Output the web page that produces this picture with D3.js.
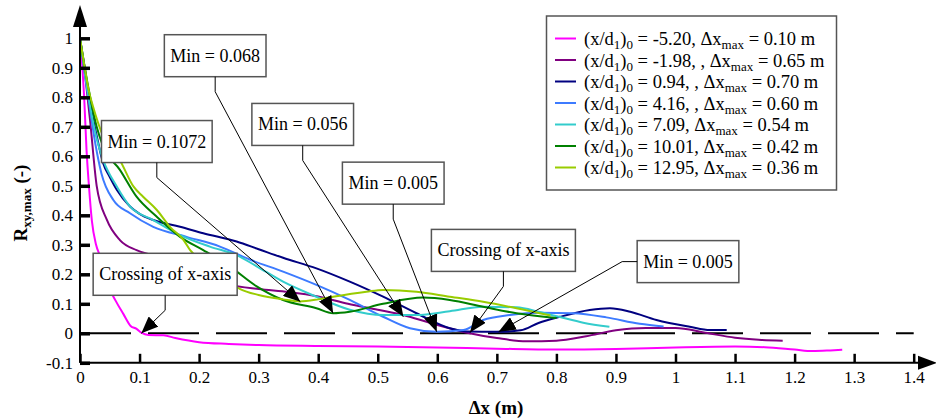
<!DOCTYPE html>
<html>
<head>
<meta charset="utf-8">
<script src="https://cdn.jsdelivr.net/npm/d3@7"></script>
<style>
body { margin: 0; background: #fff; }
svg text { font-family: "Liberation Serif", "DejaVu Serif", serif !important; }
</style>
</head>
<body>
<div id="chart"></div>
<script>
// R_xy,max against separation dx, one series per starting position (x/d1)0
const seriesLabels = [
    ["-5.20", "", "0.10"],
    ["-1.98", ", ", "0.65"],
    ["0.94", ", ", "0.70"],
    ["4.16", ", ", "0.60"],
    ["7.09", "", "0.54"],
    ["10.01", "", "0.42"],
    ["12.95", "", "0.36"]
];
const seriesColors = ["#ff00ff", "#800080", "#000080", "#3d7bff", "#33cccc", "#008000", "#99cc00"];

const s520 = [[0, 1.0], [0.004, 0.9], [0.007, 0.8], [0.011, 0.62], [0.015, 0.5], [0.02, 0.38], [0.027, 0.3],
    [0.034, 0.26], [0.04, 0.22], [0.048, 0.16], [0.06, 0.11], [0.073, 0.065], [0.085, 0.025], [0.095, 0.015],
    [0.103, 0.002], [0.115, -0.006], [0.14, -0.007], [0.16, -0.016], [0.2, -0.03], [0.25, -0.036], [0.3, -0.04],
    [0.4, -0.043], [0.5, -0.045], [0.6, -0.048], [0.7, -0.052], [0.8, -0.055], [0.9, -0.053], [1.0, -0.048],
    [1.1, -0.045], [1.15, -0.047], [1.2, -0.055], [1.23, -0.06], [1.26, -0.058], [1.28, -0.056]];
const s198 = [[0, 1.0], [0.01, 0.85], [0.017, 0.72], [0.028, 0.5], [0.045, 0.385], [0.067, 0.316], [0.095, 0.282],
    [0.12, 0.265], [0.15, 0.24], [0.2, 0.2], [0.25, 0.165], [0.3, 0.15], [0.35, 0.14], [0.4, 0.125], [0.45, 0.1],
    [0.5, 0.08], [0.55, 0.058], [0.6, 0.028], [0.65, 0.002], [0.7, -0.016], [0.75, -0.027], [0.8, -0.025],
    [0.85, -0.01], [0.9, 0.01], [0.95, 0.018], [1.0, 0.018], [1.05, 0.002], [1.1, -0.015], [1.14, -0.022], [1.18, -0.025]];
const s094 = [[0, 1.0], [0.008, 0.9], [0.017, 0.78], [0.028, 0.67], [0.039, 0.576], [0.05, 0.53], [0.062, 0.486],
    [0.084, 0.43], [0.1, 0.405], [0.123, 0.384], [0.168, 0.361], [0.207, 0.339], [0.263, 0.311], [0.3, 0.285],
    [0.341, 0.256], [0.397, 0.22], [0.453, 0.175], [0.509, 0.124], [0.565, 0.068], [0.621, 0.017], [0.65, 0.006],
    [0.7, 0.005], [0.74, 0.01], [0.77, 0.035], [0.806, 0.056], [0.856, 0.079], [0.89, 0.085], [0.924, 0.073],
    [0.968, 0.045], [1.024, 0.022], [1.058, 0.011], [1.086, 0.011]];
const s416 = [[0, 1.0], [0.008, 0.88], [0.017, 0.757], [0.026, 0.64], [0.036, 0.542], [0.056, 0.452], [0.084, 0.407],
    [0.123, 0.361], [0.179, 0.327], [0.235, 0.294], [0.285, 0.25], [0.341, 0.209], [0.397, 0.164], [0.453, 0.113],
    [0.509, 0.056], [0.554, 0.017], [0.599, 0.005], [0.644, 0.011], [0.677, 0.045], [0.722, 0.062], [0.772, 0.07],
    [0.828, 0.068], [0.884, 0.054], [0.94, 0.032], [0.98, 0.023]];
const s709 = [[0, 1.0], [0.008, 0.89], [0.017, 0.77], [0.028, 0.66], [0.039, 0.587], [0.062, 0.497], [0.084, 0.43],
    [0.123, 0.384], [0.168, 0.333], [0.218, 0.294], [0.263, 0.265], [0.296, 0.228], [0.341, 0.175], [0.397, 0.124],
    [0.453, 0.08], [0.509, 0.062], [0.565, 0.062], [0.621, 0.075], [0.677, 0.09], [0.733, 0.088], [0.772, 0.072],
    [0.806, 0.055], [0.845, 0.036], [0.889, 0.022]];
const s1001 = [[0, 1.0], [0.008, 0.9], [0.017, 0.802], [0.028, 0.7], [0.039, 0.633], [0.067, 0.554], [0.095, 0.463],
    [0.129, 0.395], [0.168, 0.327], [0.207, 0.282], [0.252, 0.226], [0.296, 0.16], [0.341, 0.113], [0.397, 0.085],
    [0.425, 0.068], [0.453, 0.073], [0.509, 0.1], [0.576, 0.121], [0.621, 0.113], [0.677, 0.09], [0.733, 0.068], [0.8, 0.052]];
const s1295 = [[0, 1.0], [0.008, 0.9], [0.015, 0.82], [0.022, 0.768], [0.039, 0.667], [0.067, 0.587], [0.09, 0.497],
    [0.106, 0.463], [0.129, 0.418], [0.151, 0.361], [0.174, 0.316], [0.185, 0.282], [0.21, 0.24], [0.24, 0.19],
    [0.269, 0.15], [0.3, 0.13], [0.341, 0.115], [0.369, 0.108], [0.4, 0.115], [0.425, 0.124], [0.481, 0.141],
    [0.509, 0.147], [0.565, 0.141], [0.621, 0.124], [0.677, 0.107], [0.733, 0.085], [0.79, 0.06]];
const seriesData = [s520, s198, s094, s416, s709, s1001, s1295];

const xTicks = d3.range(0, 15).map(i => i / 10);
const yTicks = d3.range(-1, 11).map(i => i / 10);

// callouts: target point (x, y) and box centre (bx, by), both in data units
const annotations = [
    { text: "Min = 0.1072", x: 0.370, y: 0.1072, bx: 0.129, by: 0.650, side: "bottom" },
    { text: "Min = 0.068", x: 0.425, y: 0.068, bx: 0.227, by: 0.941, side: "bottom" },
    { text: "Min = 0.056", x: 0.543, y: 0.056, bx: 0.374, by: 0.708, side: "bottom" },
    { text: "Min = 0.005", x: 0.599, y: 0.005, bx: 0.526, by: 0.509, side: "bottom" },
    { text: "Crossing of x-axis", x: 0.655, y: 0.003, bx: 0.711, by: 0.281, side: "bottom" },
    { text: "Min = 0.005", x: 0.703, y: 0.005, bx: 1.021, by: 0.243, side: "left" },
    { text: "Crossing of x-axis", x: 0.103, y: 0.0, bx: 0.143, by: 0.200, side: "bottom" }
];

const width = 936, height = 420;

const svg = d3.select("#chart").append("svg")
    .attr("width", width)
    .attr("height", height);

const x = d3.scaleLinear().domain([0, 1.4]).range([80, 913.7]);
const y = d3.scaleLinear().domain([-0.1, 1]).range([362.8, 38.3]);
const fmt = d => String(+d.toFixed(1));

// zero line
svg.append("line")
    .attr("x1", x(0)).attr("x2", x(1.4))
    .attr("y1", y(0)).attr("y2", y(0))
    .attr("stroke", "#000")
    .attr("stroke-width", 2)
    .attr("stroke-dasharray", "51 17");

// curves
const line = d3.line()
    .x(d => x(d[0]))
    .y(d => y(d[1]))
    .curve(d3.curveMonotoneX);

svg.append("g")
    .selectAll("path")
    .data(seriesData)
    .join("path")
    .attr("d", line)
    .attr("fill", "none")
    .attr("stroke", (d, i) => seriesColors[i])
    .attr("stroke-width", 2);

// axes
const gx = svg.append("g")
    .attr("transform", `translate(0,${y(-0.1)})`)
    .call(d3.axisBottom(x).tickValues(xTicks).tickSize(-9).tickPadding(8).tickFormat(fmt));
gx.attr("font-size", 17);
gx.select(".domain").remove();
gx.selectAll(".tick line").attr("stroke", "#000").attr("stroke-width", 2.5);
gx.selectAll(".tick text").attr("fill", "#000");

const gy = svg.append("g")
    .attr("transform", `translate(${x(0)},0)`)
    .call(d3.axisLeft(y).tickValues(yTicks).tickSize(-10).tickPadding(7).tickFormat(fmt));
gy.attr("font-size", 17);
gy.select(".domain").remove();
gy.selectAll(".tick line").attr("stroke", "#000").attr("stroke-width", 3.5);
gy.selectAll(".tick text").attr("fill", "#000");

svg.append("line")
    .attr("x1", x(0)).attr("x2", 924)
    .attr("y1", y(-0.1)).attr("y2", y(-0.1))
    .attr("stroke", "#000").attr("stroke-width", 2);
svg.append("line")
    .attr("x1", x(0)).attr("x2", x(0))
    .attr("y1", y(-0.1)).attr("y2", 20)
    .attr("stroke", "#000").attr("stroke-width", 2);
svg.append("path")
    .attr("d", `M${x(0)},5 L${x(0) - 7},27 L${x(0) + 7},27 Z`)
    .attr("fill", "#000");
svg.append("path")
    .attr("d", `M937,${y(-0.1)} L918,${y(-0.1) - 7} L918,${y(-0.1) + 7} Z`)
    .attr("fill", "#000");

// axis titles
svg.append("text")
    .attr("x", 496).attr("y", 414)
    .attr("text-anchor", "middle")
    .attr("font-weight", "bold")
    .attr("font-size", 19)
    .text("\u0394x (m)");

const yt = svg.append("text")
    .attr("transform", "translate(27,203) rotate(-90)")
    .attr("text-anchor", "middle")
    .attr("font-weight", "bold")
    .attr("font-size", 19);
yt.append("tspan").text("R");
yt.append("tspan").attr("dy", 4).attr("font-size", 13).text("xy,max");
yt.append("tspan").attr("dy", -4).text(" (-)");

// callouts
svg.append("defs").append("marker")
    .attr("id", "head")
    .attr("markerUnits", "userSpaceOnUse")
    .attr("markerWidth", 18).attr("markerHeight", 14)
    .attr("refX", 17).attr("refY", 7)
    .attr("orient", "auto")
    .append("path")
    .attr("d", "M0,0 L17,7 L0,14 Z")
    .attr("fill", "#000");

const notes = svg.append("g");
annotations.forEach(a => {
    const g = notes.append("g");
    const cx = x(a.bx), cy = y(a.by);
    const t = g.append("text")
        .attr("x", cx).attr("y", cy + 6)
        .attr("text-anchor", "middle")
        .attr("font-size", 18)
        .text(a.text);
    const w = t.node().getComputedTextLength() + 12, h = 42;
    g.insert("rect", "text")
        .attr("x", cx - w / 2).attr("y", cy - h / 2)
        .attr("width", w).attr("height", h)
        .attr("fill", "#fff")
        .attr("stroke", "#555")
        .attr("stroke-width", 1.5);
    let p0, p1;
    if (a.side === "left") {
        p0 = [cx - w / 2, cy];
        p1 = [cx - w / 2 - 15, cy];
    } else {
        p0 = [cx, cy + h / 2];
        p1 = [cx, cy + h / 2 + 15];
    }
    g.append("path")
        .attr("d", `M${p0[0]},${p0[1]} L${p1[0]},${p1[1]} L${x(a.x)},${y(a.y)}`)
        .attr("fill", "none")
        .attr("stroke", "#000")
        .attr("stroke-width", 1)
        .attr("marker-end", "url(#head)");
});

// legend
const lg = svg.append("g");
lg.append("rect")
    .attr("x", 546.5).attr("y", 16)
    .attr("width", 290).attr("height", 174)
    .attr("fill", "#fff")
    .attr("stroke", "#555")
    .attr("stroke-width", 1.5);
seriesLabels.forEach((s, i) => {
    const ry = 40 + i * 21.5;
    lg.append("line")
        .attr("x1", 555).attr("x2", 576)
        .attr("y1", ry - 1.5).attr("y2", ry - 1.5)
        .attr("stroke", seriesColors[i])
        .attr("stroke-width", 2);
    const t = lg.append("text")
        .attr("x", 584).attr("y", ry + 5)
        .attr("font-size", 18.5);
    t.append("tspan").text("(x/d");
    t.append("tspan").attr("dy", 4).attr("font-size", 13).text("1");
    t.append("tspan").attr("dy", -4).text(")");
    t.append("tspan").attr("dy", 4).attr("font-size", 13).text("0");
    t.append("tspan").attr("dy", -4).text(` = ${s[0]}, ${s[1]}\u0394x`);
    t.append("tspan").attr("dy", 4).attr("font-size", 13).text("max");
    t.append("tspan").attr("dy", -4).text(` = ${s[2]} m`);
});
</script>
</body>
</html>
